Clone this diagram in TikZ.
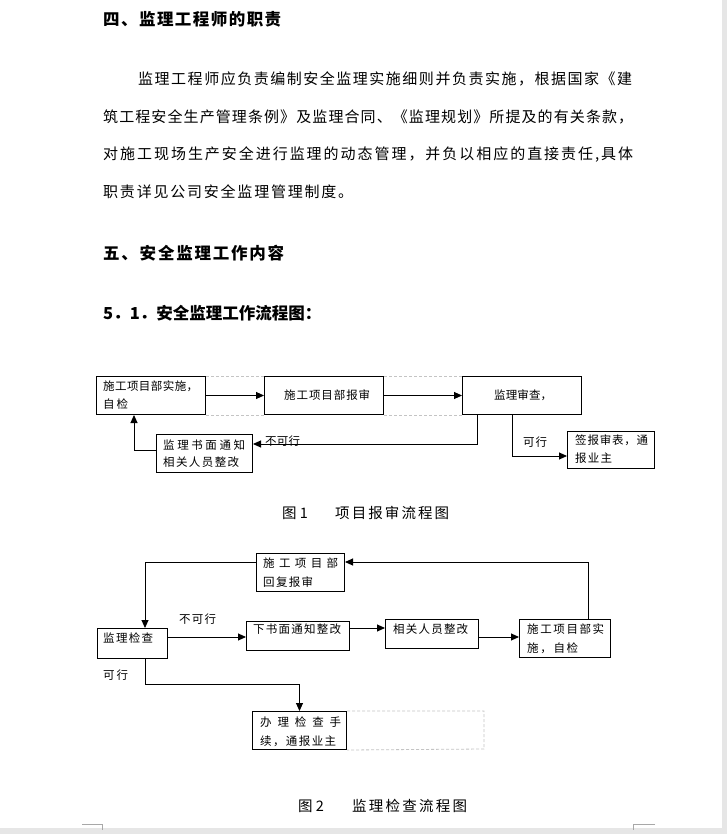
\documentclass[tikz,border=0pt]{standalone}
\usepackage{fontspec}
\setmainfont{Noto Sans CJK SC}
\usetikzlibrary{arrows.meta}
\definecolor{pagebg}{HTML}{E6E6E6}
\definecolor{dashgray}{HTML}{C4C4C4}
\definecolor{markgray}{HTML}{A8A8A8}
\makeatletter
\def\sprA#1{#1\sprB}
\def\sprB#1{\ifx#1\relax\else\hfill#1\expandafter\sprB\fi}
\makeatother
\newcommand\spr[2]{\makebox[#1][l]{\sprA#2\relax}}
\tikzset{
  box/.style={draw=black, line width=1pt, rectangle, inner sep=0pt, anchor=north west},
  txt/.style={inner sep=0pt, anchor=west, font=\fontsize{11.5}{13}\selectfont},
  para/.style={inner sep=0pt, anchor=west, font=\fontsize{15}{18}\selectfont},
  head/.style={inner sep=0pt, anchor=west, font=\fontsize{16.5}{19}\selectfont\bfseries},
  capstyle/.style={inner sep=0pt, anchor=west, font=\fontsize{14.5}{16}\selectfont},
  arr/.style={draw=black, line width=0.9pt, -{Triangle[length=8pt,width=7pt]}},
  dashg/.style={draw=dashgray, line width=0.8pt, dash pattern=on 3pt off 2pt},
}
\begin{document}
\begin{tikzpicture}[x=1pt,y=-1pt]
\useasboundingbox (0,0) rectangle (727,834);
\fill[pagebg] (0,0) rectangle (727,834);
\fill[white] (0,0) rectangle (722,828);
% corner marks
\draw[markgray, line width=0.7pt] (82,824) -- (102,824) -- (102,830);
\draw[markgray, line width=0.7pt] (655,824) -- (633,824) -- (633,830);

% headings and paragraph
\node[head] (h1) at (103,19) {\spr{178pt}{四、监理工程师的职责}};
\node[para] (p1) at (138,79) {\spr{494pt}{监理工程师应负责编制安全监理实施细则并负责实施，根据国家《建}};
\node[para] (p2) at (103,117) {\spr{530pt}{筑工程安全生产管理条例》及监理合同、《监理规划》所提及的有关条款，}};
\node[para] (p3) at (103,155) {\spr{530pt}{对施工现场生产安全进行监理的动态管理，并负以相应的直接责任,具体}};
\node[para] (p4) at (103,192) {\spr{250pt}{职责详见公司安全监理管理制度。}};
\node[head] (h2) at (103,253) {\spr{181pt}{五、安全监理工作内容}};
\node[head] (h3) at (103,313) {5．1．安全监理工作流程图：};

% ---------- Figure 1 ----------
\node[box, minimum width=109pt, minimum height=38pt] (A) at (96,376) {};
\node[box, minimum width=119pt, minimum height=38pt] (B) at (264,376) {};
\node[box, minimum width=119pt, minimum height=38pt] (C) at (462,376) {};
\node[box, minimum width=96pt, minimum height=38pt] (D) at (156,434) {};
\node[box, minimum width=87pt, minimum height=37pt] (E) at (567,431) {};

\draw[dashg] (A.north east) -- (B.north west) (B.north east) -- (C.north west);
\draw[dashg] (A.south east) -- (B.south west) (B.south east) -- (C.south west);

\node[txt] (A1) at (103,386) {\spr{95pt}{施工项目部实施，}};
\node[txt] (A2) at (103,404) {\spr{25pt}{自检}};
\node[txt] (B1) at (284,395) {\spr{86pt}{施工项目部报审}};
\node[txt] (C1) at (494,395) {\spr{58pt}{监理审查，}};
\node[txt] (D1) at (163,445) {\spr{82pt}{监理书面通知}};
\node[txt] (D2) at (163,462) {\spr{76pt}{相关人员整改}};
\node[txt] (E1) at (575,440) {\spr{73pt}{签报审表，通}};
\node[txt] (E2) at (575,458) {\spr{37pt}{报业主}};
\node[txt] (L1) at (265,441) {\spr{35pt}{不可行}};
\node[txt] (L2) at (523,442) {\spr{24pt}{可行}};

\draw[arr] (A.east) -- (B.west);
\draw[arr] (B.east) -- (C.west);
\draw[arr] ([xshift=15pt]C.south west) |- ([yshift=-10pt]D.north east);
\draw[arr] ([yshift=-16pt]D.north west) -| ([xshift=38pt]A.south west);
\draw[arr] ([xshift=50pt]C.south west) |- ([yshift=-25pt]E.north west);

\node[capstyle] (cap1) at (282,513) {\makebox[53pt][l]{图 1}\spr{114pt}{项目报审流程图}};

% ---------- Figure 2 ----------
\node[box, minimum width=88pt, minimum height=38pt] (F) at (256,553) {};
\node[box, minimum width=70pt, minimum height=30pt] (G) at (97,628) {};
\node[box, minimum width=103pt, minimum height=29pt] (H) at (246,621) {};
\node[box, minimum width=93pt, minimum height=29pt] (I) at (385,619) {};
\node[box, minimum width=91pt, minimum height=38pt] (J) at (519,619) {};
\node[box, minimum width=94pt, minimum height=38pt] (K) at (252,711) {};
\coordinate (kr1) at (484,711);
\coordinate (kr2) at (484,749);
\draw[dashg] (K.north east) -- (kr1) -- (kr2) -- (K.south east);

\node[txt] (F1) at (263,563) {\spr{75pt}{施工项目部}};
\node[txt] (F2) at (263,582) {\spr{50pt}{回复报审}};
\node[txt] (G1) at (103,638) {\spr{50pt}{监理检查}};
\node[txt] (L3) at (179,619) {\spr{37pt}{不可行}};
\node[txt] (H1) at (253,629) {\spr{88pt}{下书面通知整改}};
\node[txt] (I1) at (393,629) {\spr{75pt}{相关人员整改}};
\node[txt] (J1) at (527,629) {\spr{77pt}{施工项目部实}};
\node[txt] (J2) at (527,648) {\spr{51pt}{施，自检}};
\node[txt] (K1) at (260,722) {\spr{81pt}{办理检查手}};
\node[txt] (K2) at (260,741) {\spr{76pt}{续，通报业主}};
\node[txt] (L4) at (103,675) {\spr{25pt}{可行}};

\draw[arr] ([yshift=-9pt]F.north west) -| ([xshift=48pt]G.north west);
\draw[arr] ([yshift=-9pt]G.north east) -- ([yshift=-16pt]H.north west);
\draw[arr] ([yshift=-7pt]H.north east) -- ([yshift=-9pt]I.north west);
\draw[arr] ([yshift=-18pt]I.north east) -- ([yshift=-18pt]J.north west);
\draw[arr] ([xshift=69pt]J.north west) |- ([yshift=-9pt]F.north east);
\coordinate (gk) at (145,684);
\draw[arr] ([xshift=48pt]G.south west) -- (gk) -| (K.north);

\node[capstyle] (cap2) at (298,806) {\makebox[54pt][l]{图 2}\spr{115pt}{监理检查流程图}};
\end{tikzpicture}
\end{document}
